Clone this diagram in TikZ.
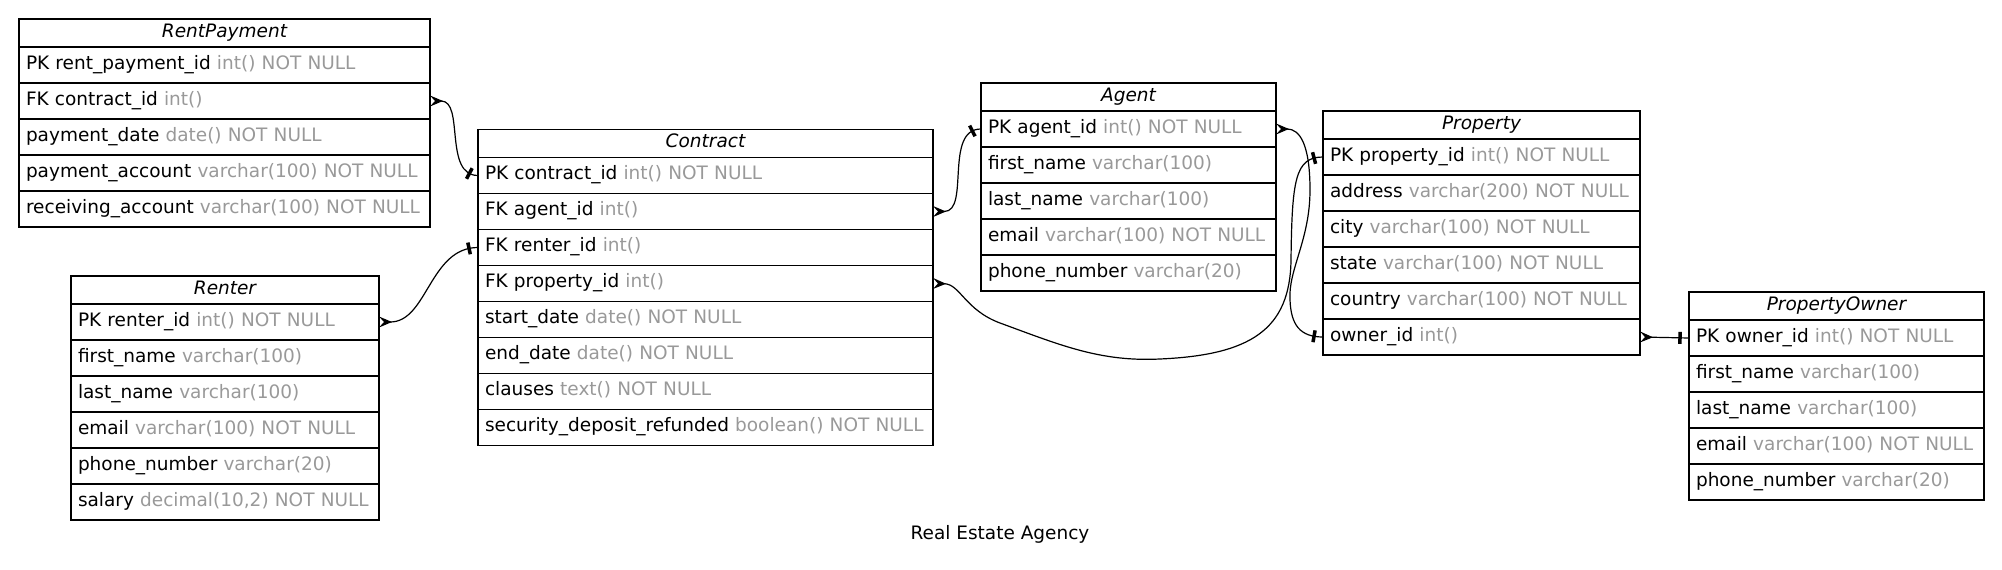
\documentclass[tikz,border=0pt]{standalone}
\usepackage{fontspec}
\setmainfont{DejaVu Sans}[ItalicFont={DejaVu Sans Oblique}]
\usetikzlibrary{positioning,arrows.meta,decorations.markings}
\definecolor{typegray}{HTML}{999999}
\newcommand{\fld}[2]{\mbox{#1 \textcolor{typegray}{#2}}}
\tikzset{
  every node/.style={font=\fontsize{18.5pt}{22pt}\selectfont, outer sep=0pt},
  tblhead/.style={draw, line width=1.2pt, minimum width=#1, minimum height=28pt,
    inner sep=0pt, text height=14pt, text depth=6pt, font=\fontsize{18.5pt}{22pt}\selectfont\itshape},
  tblrow/.style={draw, line width=1.2pt, text width=#1, align=left, inner xsep=7pt,
    inner ysep=0pt, minimum height=36pt, text height=14pt, text depth=6pt},
  fk/.style={line width=1.2pt, arrows={Stealth[reversed,length=13pt,width=11pt,inset=5pt]-},
    postaction={decorate}, decoration={markings,
      mark=at position -9pt with {\draw[-, line width=3.5pt] (0,-6pt) -- (0,6pt);}}}
}
\begin{document}
\begin{tikzpicture}[x=1pt,y=-1pt]
  \useasboundingbox (0,0) rectangle (2002,570);
  % RentPayment
  \node[tblhead=411pt, anchor=north west] (rp) at (19,19) {RentPayment};
  \node[tblrow=397pt, below=0pt of rp] (rp-1) {\fld{PK rent\_payment\_id}{int() NOT NULL}};
  \node[tblrow=397pt, below=0pt of rp-1] (rp-2) {\fld{FK contract\_id}{int()}};
  \node[tblrow=397pt, below=0pt of rp-2] (rp-3) {\fld{payment\_date}{date() NOT NULL}};
  \node[tblrow=397pt, below=0pt of rp-3] (rp-4) {\fld{payment\_account}{varchar(100) NOT NULL}};
  \node[tblrow=397pt, below=0pt of rp-4] (rp-5) {\fld{receiving\_account}{varchar(100) NOT NULL}};
  % Renter
  \node[tblhead=308pt, anchor=north west] (rn) at (71,276) {Renter};
  \node[tblrow=294pt, below=0pt of rn] (rn-1) {\fld{PK renter\_id}{int() NOT NULL}};
  \node[tblrow=294pt, below=0pt of rn-1] (rn-2) {\fld{first\_name}{varchar(100)}};
  \node[tblrow=294pt, below=0pt of rn-2] (rn-3) {\fld{last\_name}{varchar(100)}};
  \node[tblrow=294pt, below=0pt of rn-3] (rn-4) {\fld{email}{varchar(100) NOT NULL}};
  \node[tblrow=294pt, below=0pt of rn-4] (rn-5) {\fld{phone\_number}{varchar(20)}};
  \node[tblrow=294pt, below=0pt of rn-5] (rn-6) {\fld{salary}{decimal(10,2) NOT NULL}};
  % Contract
  \node[tblhead=455pt, anchor=north west] (ct) at (478,129.5) {Contract};
  \node[tblrow=441pt, below=0pt of ct] (ct-1) {\fld{PK contract\_id}{int() NOT NULL}};
  \node[tblrow=441pt, below=0pt of ct-1] (ct-2) {\fld{FK agent\_id}{int()}};
  \node[tblrow=441pt, below=0pt of ct-2] (ct-3) {\fld{FK renter\_id}{int()}};
  \node[tblrow=441pt, below=0pt of ct-3] (ct-4) {\fld{FK property\_id}{int()}};
  \node[tblrow=441pt, below=0pt of ct-4] (ct-5) {\fld{start\_date}{date() NOT NULL}};
  \node[tblrow=441pt, below=0pt of ct-5] (ct-6) {\fld{end\_date}{date() NOT NULL}};
  \node[tblrow=441pt, below=0pt of ct-6] (ct-7) {\fld{clauses}{text() NOT NULL}};
  \node[tblrow=441pt, below=0pt of ct-7] (ct-8) {\fld{security\_deposit\_refunded}{boolean() NOT NULL}};
  % Agent
  \node[tblhead=295pt, anchor=north west] (ag) at (981,83) {Agent};
  \node[tblrow=281pt, below=0pt of ag] (ag-1) {\fld{PK agent\_id}{int() NOT NULL}};
  \node[tblrow=281pt, below=0pt of ag-1] (ag-2) {\fld{first\_name}{varchar(100)}};
  \node[tblrow=281pt, below=0pt of ag-2] (ag-3) {\fld{last\_name}{varchar(100)}};
  \node[tblrow=281pt, below=0pt of ag-3] (ag-4) {\fld{email}{varchar(100) NOT NULL}};
  \node[tblrow=281pt, below=0pt of ag-4] (ag-5) {\fld{phone\_number}{varchar(20)}};
  % Property
  \node[tblhead=317pt, anchor=north west] (pr) at (1323,111) {Property};
  \node[tblrow=303pt, below=0pt of pr] (pr-1) {\fld{PK property\_id}{int() NOT NULL}};
  \node[tblrow=303pt, below=0pt of pr-1] (pr-2) {\fld{address}{varchar(200) NOT NULL}};
  \node[tblrow=303pt, below=0pt of pr-2] (pr-3) {\fld{city}{varchar(100) NOT NULL}};
  \node[tblrow=303pt, below=0pt of pr-3] (pr-4) {\fld{state}{varchar(100) NOT NULL}};
  \node[tblrow=303pt, below=0pt of pr-4] (pr-5) {\fld{country}{varchar(100) NOT NULL}};
  \node[tblrow=303pt, below=0pt of pr-5] (pr-6) {\fld{owner\_id}{int()}};
  % PropertyOwner
  \node[tblhead=295pt, anchor=north west] (po) at (1689,292) {PropertyOwner};
  \node[tblrow=281pt, below=0pt of po] (po-1) {\fld{PK owner\_id}{int() NOT NULL}};
  \node[tblrow=281pt, below=0pt of po-1] (po-2) {\fld{first\_name}{varchar(100)}};
  \node[tblrow=281pt, below=0pt of po-2] (po-3) {\fld{last\_name}{varchar(100)}};
  \node[tblrow=281pt, below=0pt of po-3] (po-4) {\fld{email}{varchar(100) NOT NULL}};
  \node[tblrow=281pt, below=0pt of po-4] (po-5) {\fld{phone\_number}{varchar(20)}};
  % title
  \node (title) at (1000,534) {Real Estate Agency};
  % relations: crow on the many side, bar on the one side
  \draw[fk] (rp-2.east) to[out=0,in=180] (ct-1.west);
  \draw[fk] (ct-2.east) to[out=0,in=180] (ag-1.west);
  \draw[fk] (rn-1.east) to[out=0,in=180] (ct-3.west);
  \draw[fk] (ct-4.east) .. controls (960,284) and (965,310) .. (1000,323)
    .. controls (1060,345) and (1100,362) .. (1160,359)
    .. controls (1250,355) and (1290,330) .. (1291,260)
    .. controls (1292,180) and (1295,157) .. (pr-1.west);
  \draw[fk] (ag-1.east) .. controls (1300,129) and (1310,145) .. (1310,190)
    .. controls (1310,240) and (1288,270) .. (1290,300)
    .. controls (1291,325) and (1300,337) .. (pr-6.west);
  \draw[fk] (pr-6.east) -- (po-1.west);
\end{tikzpicture}
\end{document}
